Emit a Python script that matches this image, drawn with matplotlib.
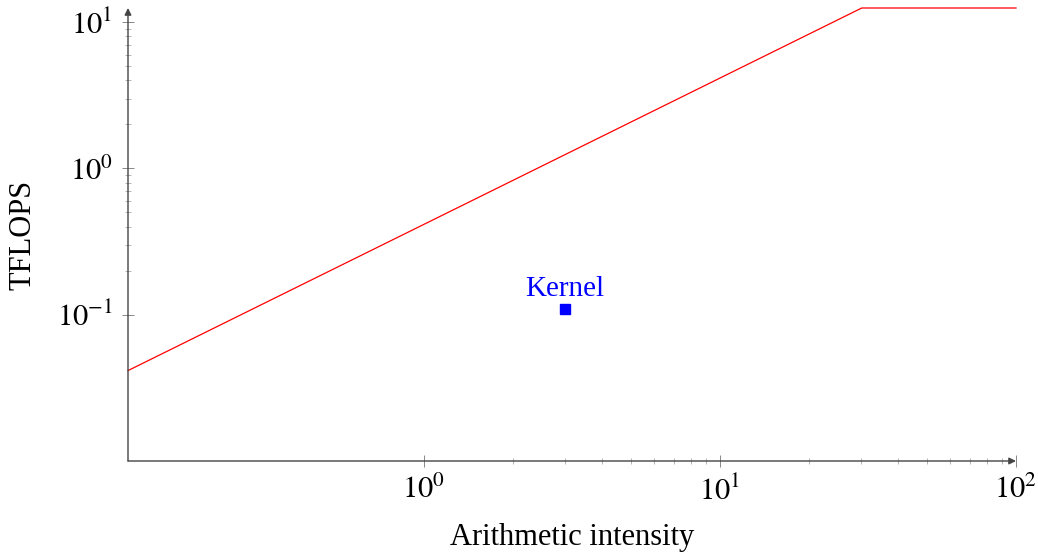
import numpy as np
import matplotlib
matplotlib.use("Agg")
import matplotlib.pyplot as plt
from matplotlib.ticker import FixedLocator, NullFormatter

plt.rcParams["font.family"] = ["Liberation Serif", "DejaVu Serif"]
plt.rcParams["mathtext.fontset"] = "stix"

# roofline parameters
peak_tflops = 12.5
bandwidth = 0.415          # TFLOPS per unit of arithmetic intensity
x_range = [0.1, 100]
y_range = [0.01, 12.5]

# measured kernel
kernel_names = ["Kernel"]
kernel_ai = [3.0]
kernel_perf = [0.11]

x_major = [1, 10, 100]
y_major = [0.1, 1, 10]
x_minor = [m * d for d in [1, 10] for m in range(2, 10)]
y_minor = [m * d for d in [0.1, 1] for m in range(2, 10)]

ridge = peak_tflops / bandwidth
roof_x = [x_range[0], ridge, x_range[1]]
roof_y = [bandwidth * x_range[0], peak_tflops, peak_tflops]

fig = plt.figure(figsize=(10.38, 5.56), dpi=100)
ax = fig.add_axes([128 / 1038, 1 - 461 / 556, (1016 - 128) / 1038, (461 - 8) / 556])
ax.set_xscale("log")
ax.set_yscale("log")
ax.set_xlim(*x_range)
ax.set_ylim(*y_range)

ax.plot(roof_x, roof_y, color="red", lw=0.9, clip_on=False, zorder=3)
ax.plot(kernel_ai, kernel_perf, "s", color="blue", ms=7, zorder=4)
for name, xv, yv in zip(kernel_names, kernel_ai, kernel_perf):
    ax.annotate(name, (xv, yv), xytext=(0, 5), textcoords="offset points",
                ha="center", va="bottom", color="blue", fontsize=21)

# axis lines with arrows
for s in ax.spines.values():
    s.set_visible(False)
axc = "#444444"
ax.annotate("", xy=(1.0, 0), xytext=(0, 0), xycoords="axes fraction",
            arrowprops=dict(arrowstyle="-|>", color=axc, lw=1.0,
                            shrinkA=0, shrinkB=0, mutation_scale=10))
ax.annotate("", xy=(0, 1.0), xytext=(0, 0), xycoords="axes fraction",
            arrowprops=dict(arrowstyle="-|>", color=axc, lw=1.0,
                            shrinkA=0, shrinkB=0, mutation_scale=10))

ax.xaxis.set_major_locator(FixedLocator(x_major))
ax.yaxis.set_major_locator(FixedLocator(y_major))
ax.xaxis.set_minor_locator(FixedLocator(x_minor))
ax.yaxis.set_minor_locator(FixedLocator(y_minor))
ax.xaxis.set_minor_formatter(NullFormatter())
ax.yaxis.set_minor_formatter(NullFormatter())
ax.set_xticklabels([r"$10^{%d}$" % int(np.log10(v)) for v in x_major])
ax.set_yticklabels([r"$10^{%d}$" % int(np.log10(v)) for v in y_major])

ax.tick_params(which="major", direction="inout", length=8, width=0.7,
               color="#888888", labelsize=22, pad=7)
ax.tick_params(which="minor", direction="inout", length=5, width=0.6,
               color="#aaaaaa")

ax.set_xlabel("Arithmetic intensity", fontsize=22, labelpad=12)
ax.set_ylabel("TFLOPS", fontsize=22, labelpad=14)

fig.savefig("out.png", dpi=100)
